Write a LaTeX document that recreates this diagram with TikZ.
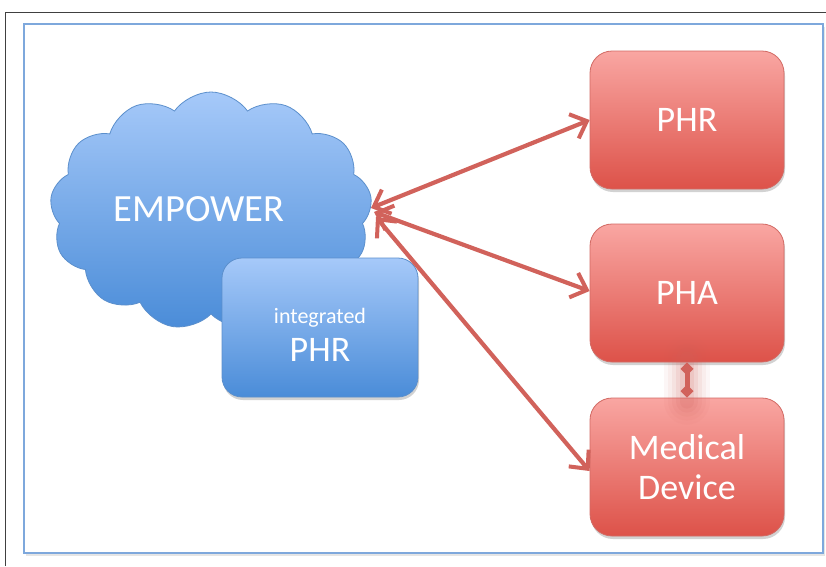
\documentclass[tikz,border=0pt]{standalone}
\usepackage{fontspec}
\setmainfont{Carlito}
\usetikzlibrary{shapes.symbols,arrows.meta,shadows}
\definecolor{bluetop}{HTML}{A6C9F9}
\definecolor{bluebot}{HTML}{4A8CD8}
\definecolor{blueedge}{HTML}{5B8FCC}
\definecolor{redtop}{HTML}{F9A6A2}
\definecolor{redbot}{HTML}{DD5249}
\definecolor{rededge}{HTML}{D26A64}
\definecolor{arrowred}{HTML}{D1625B}
\definecolor{framebl}{HTML}{7EA8DC}
\tikzset{
  redbox/.style={draw=rededge, line width=0.8pt, rounded corners=22pt,
    top color=redtop, bottom color=redbot, minimum width=194pt, minimum height=138pt,
    text=white, font=\fontsize{36}{40}\selectfont, align=center,
    drop shadow={shadow xshift=1pt, shadow yshift=-3pt, opacity=0.35}},
  bluebox/.style={draw=blueedge, line width=0.8pt, rounded corners=20pt,
    top color=bluetop, bottom color=bluebot, minimum width=196pt, minimum height=139pt,
    drop shadow={shadow xshift=1pt, shadow yshift=-3pt, opacity=0.35}},
  whitetext/.style={text=white, align=center},
  link/.style={draw=arrowred, line width=4.2pt,
    {Straight Barb[length=14pt,width=26pt,line width=4pt]}-{Straight Barb[length=14pt,width=26pt,line width=4pt]}},
}
\begin{document}
\begin{tikzpicture}[x=1pt,y=-1pt]
\useasboundingbox (0,0) rectangle (826,566);
\fill[white] (0,0) rectangle (826,566);
% outer frame
\draw[line width=1pt, black!75] (5,566) -- (5,12) -- (826,12);
% inner frame
\fill[black!10] (26,27) rectangle (825,556);
\draw[framebl, line width=1.5pt, fill=white] (24,24) rectangle (823,553);
% cloud
\node[cloud, cloud puffs=13, cloud puff arc=110, aspect=1.35,
  minimum width=322pt, minimum height=238pt, inner sep=0pt,
  draw=blueedge, line width=0.8pt, top color=bluetop, bottom color=bluebot] (emp) at (211,211) {};
\node[whitetext, font=\fontsize{38.5}{42}\selectfont] (emptext) at (199,209) {EMPOWER};
% integrated PHR
\node[bluebox] (iphr) at (320,327.5) {};
\node[whitetext] (iphrtext) at ([yshift=-7pt]iphr.center) {\fontsize{22}{24}\selectfont integrated\\[10pt]\fontsize{36}{40}\selectfont PHR};
% red boxes
\node[redbox] (phr) at (687,120) {PHR};
\node[redbox] (pha) at (687,293) {PHA};
\node[redbox] (md) at (687,467) {Medical\\[0pt]Device};
% glow connector
\foreach \w/\o in {46/0.05,38/0.06,30/0.08,22/0.1,14/0.12}{
  \draw[arrowred, line width=\w pt, opacity=\o, line cap=round] ([yshift=4pt]pha.south) -- ([yshift=-4pt]md.north);
}
\draw[arrowred, line width=5pt, {Diamond[length=13pt,width=13pt]}-{Diamond[length=13pt,width=13pt]}] (pha.south) -- (md.north);
% arrows
\coordinate (c1) at (371,208);
\coordinate (c2) at (374,212);
\coordinate (c3) at (376,217);
\draw[link] (c1) -- (phr.west);
\draw[link] (c2) -- ([yshift=2pt]pha.west);
\draw[link] (c3) -- ([yshift=-4pt]md.west);
\end{tikzpicture}
\end{document}
